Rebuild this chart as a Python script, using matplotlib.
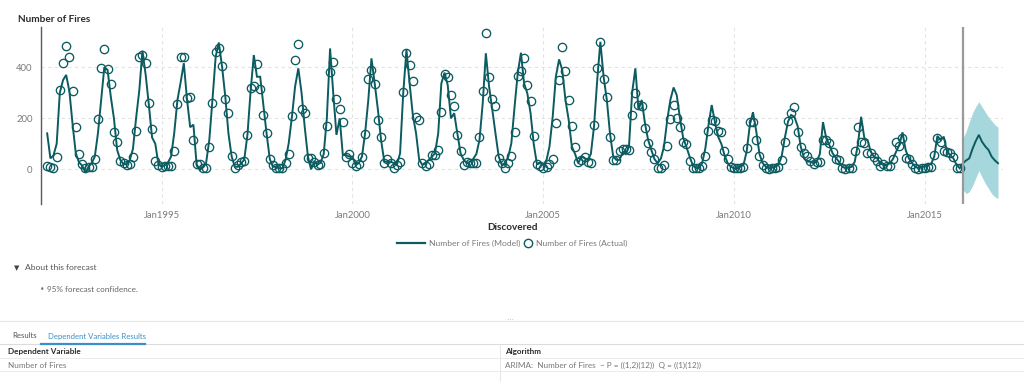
import numpy as np
import pandas as pd
import matplotlib
matplotlib.use("Agg")
import matplotlib.pyplot as plt
from matplotlib.lines import Line2D

plt.rcParams['font.family'] = ['Lato', 'DejaVu Sans']

# ---------------- data ----------------
actual = [
    12, 10, 5, 50, 310, 415, 485, 440, 307, 167, 60, 20,          # 1992
    7, 10, 10, 40, 197, 396, 470, 392, 335, 145, 108, 34,         # 1993
    24, 15, 20, 50, 152, 442, 448, 416, 259, 158, 33, 17,         # 1994
    10, 13, 13, 13, 73, 255, 442, 442, 278, 285, 115, 21,         # 1995
    21, 4, 4, 89, 259, 461, 474, 405, 275, 222, 52, 7,            # 1996
    17, 30, 34, 135, 318, 327, 412, 314, 213, 141, 39, 17,        # 1997
    4, 4, 4, 24, 60, 209, 429, 490, 235, 220, 43, 46,             # 1998
    30, 17, 21, 65, 170, 380, 422, 275, 235, 187, 50, 60,         # 1999
    26, 13, 21, 50, 139, 354, 390, 335, 193, 125, 24, 39,         # 2000
    24, 4, 17, 30, 305, 455, 409, 348, 207, 193, 24, 13,          # 2001
    20, 56, 56, 76, 224, 374, 360, 291, 248, 135, 72, 17,         # 2002
    30, 24, 24, 24, 128, 308, 536, 361, 275, 248, 43, 24,         # 2003
    4, 24, 52, 145, 366, 387, 435, 331, 269, 131, 21, 14,         # 2004
    7, 10, 20, 39, 180, 350, 481, 386, 272, 171, 89, 30,          # 2005
    37, 47, 27, 24, 174, 396, 500, 353, 285, 128, 37, 37,         # 2006
    72, 80, 78, 76, 213, 301, 252, 248, 161, 102, 67, 39,         # 2007
    4, 4, 17, 91, 197, 252, 203, 167, 106, 98, 33, 7,             # 2008
    4, 4, 14, 52, 150, 193, 190, 150, 145, 72, 39, 10,            # 2009
    7, 7, 7, 10, 82, 187, 184, 115, 54, 17, 7, 1,                 # 2010
    7, 7, 10, 37, 106, 191, 222, 246, 145, 89, 63, 54,            # 2011
    33, 20, 27, 30, 115, 115, 102, 69, 39, 35, 4, 1,              # 2012
    7, 7, 73, 167, 106, 102, 63, 63, 50, 34, 14, 20,              # 2013
    14, 14, 40, 108, 93, 122, 46, 41, 20, 7, 1, 7,                # 2014
    7, 10, 8, 56, 122, 108, 72, 69, 63, 50, 7, 4,                 # 2015
]

model = [
    141, 43, 54, 100, 300, 350, 370, 305, 174, 63, 27, 15,        # 1992
    -13, 10, 24, 50, 141, 272, 400, 390, 285, 200, 76, 37,        # 1993
    20, 20, 35, 80, 200, 310, 465, 370, 250, 125, 100, 20,        # 1994
    10, 17, 26, 50, 141, 272, 340, 416, 272, 165, 175, 20,        # 1995
    -3, 10, 24, 115, 272, 442, 497, 403, 285, 141, 50, 10,        # 1996
    10, 24, 37, 135, 305, 448, 363, 363, 250, 141, 40, 10,        # 1997
    10, 4, 4, 37, 102, 207, 324, 396, 300, 167, 50, 0,            # 1998
    30, 20, 25, 60, 200, 474, 300, 135, 200, 56, 56, 50,          # 1999
    50, 17, 24, 50, 141, 272, 435, 337, 233, 115, 30, 30,         # 2000
    30, 24, 17, 63, 298, 468, 337, 213, 141, 37, 17, 24,          # 2001
    37, 50, 63, 141, 337, 379, 330, 200, 220, 141, 63, 37,        # 2002
    24, 30, 40, 60, 115, 259, 455, 324, 233, 141, 50, 17,         # 2003
    24, 50, 102, 246, 376, 457, 337, 298, 220, 100, 20, 24,       # 2004
    17, 37, 89, 207, 363, 431, 390, 272, 193, 89, 60, 24,         # 2005
    50, 43, 37, 60, 167, 350, 500, 363, 272, 141, 50, 37,         # 2006
    37, 69, 60, 89, 300, 396, 233, 272, 180, 115, 76, 40,         # 2007
    24, 43, 89, 193, 272, 321, 291, 200, 122, 89, 50, 17,         # 2008
    4, 7, 24, 82, 174, 252, 187, 128, 100, 56, 24, 10,            # 2009
    4, 4, 10, 17, 69, 174, 224, 150, 60, 25, 10, 4,               # 2010
    7, 10, 17, 50, 122, 187, 213, 206, 170, 89, 45, 30,           # 2011
    30, 24, 30, 60, 185, 122, 95, 63, 45, 30, 10, 5,              # 2012
    7, 10, 30, 100, 206, 122, 115, 69, 50, 43, 24, 17,            # 2013
    17, 24, 40, 69, 95, 145, 76, 43, 24, 10, 4, 10,               # 2014
    10, 17, 20, 50, 131, 115, 128, 69, 56, 43, 17, 4,             # 2015
    24, 35, 43, 80, 110, 135, 108, 90, 76, 50, 35, 24,            # 2016 forecast
]

forecast_upper = [122, 150, 185, 220, 245, 265, 245, 225, 205, 190, 175, 165]
forecast_lower = [-80, -95, -88, -65, -35, -5, -30, -55, -75, -95, -108, -114]

y_ticks = [0, 200, 400]
x_tick_years = [1995, 2000, 2005, 2010, 2015]
legend_labels = ['Number of Fires (Model)', 'Number of Fires (Actual)']

# ---------------- figure ----------------
W, H = 1024, 382
fig = plt.figure(figsize=(W / 100, H / 100), dpi=100)

def fx(x):
    return x / W

def fy(y):
    return 1 - y / H

TEAL = '#0b5b61'
BAND = '#a6d7dc'
GRID = '#e3e3e3'
GRAY = '#7a7a7a'
DARK = '#2b2b2b'

ax = fig.add_axes([fx(41), fy(204), fx(1003) - fx(41), fy(27) - fy(204)])

dates_act = pd.date_range('1992-01-01', periods=len(actual), freq='MS')
dates_mod = pd.date_range('1992-01-01', periods=len(model), freq='MS')
dates_fc = pd.date_range('2016-01-01', periods=len(forecast_upper), freq='MS')

ax.fill_between(dates_fc, forecast_lower, forecast_upper, color=BAND, lw=0, zorder=1)
ax.plot(dates_mod, model, color=TEAL, lw=1.4, zorder=3, solid_joinstyle='miter')
ax.plot(dates_act, actual, linestyle='none', marker='o', ms=6.0,
        mfc='none', mec=TEAL, mew=0.95, zorder=4)
ax.axvline(pd.Timestamp('2016-01-01'), color='#9a9a9a', lw=1.6, zorder=5)

ax.set_ylim(-136, 558)
ax.set_xlim(pd.Timestamp('1991-11-03'), pd.Timestamp('2017-01-18'))

ax.set_yticks(y_ticks)
ax.set_yticklabels([str(v) for v in y_ticks])
ax.set_xticks([pd.Timestamp(f'{yr}-01-01') for yr in x_tick_years])
ax.set_xticklabels([f'Jan{yr}' for yr in x_tick_years])
ax.tick_params(axis='both', length=0, labelsize=6.8, colors=GRAY)
ax.tick_params(axis='y', pad=6)
ax.tick_params(axis='x', pad=5)
ax.grid(True, color=GRID, lw=0.8, ls=(0, (3, 3)))
ax.set_axisbelow(True)
for s in ['top', 'right', 'bottom']:
    ax.spines[s].set_visible(False)
ax.spines['left'].set_color('#5a5a5a')
ax.spines['left'].set_linewidth(1.0)

# titles
fig.text(fx(18), fy(20), 'Number of Fires', fontsize=7.2, fontweight='bold',
         color=DARK, ha='left', va='center')
fig.text(fx(512), fy(228), 'Discovered', fontsize=7.2, fontweight='bold',
         color=DARK, ha='center', va='center')

# legend (drawn as keys + labels)
fig.add_artist(Line2D([fx(397), fx(425)], [fy(243), fy(243)], color=TEAL, lw=1.6,
                      transform=fig.transFigure))
fig.text(fx(429), fy(243), legend_labels[0], fontsize=6.1, color=GRAY,
         ha='left', va='center')
fig.add_artist(Line2D([fx(528)], [fy(243)], marker='o', ms=6.0, mfc='none',
                      mec=TEAL, mew=1.0, linestyle='none',
                      transform=fig.transFigure))
fig.text(fx(536), fy(243), legend_labels[1], fontsize=6.1, color=GRAY,
         ha='left', va='center')

# about this forecast
fig.text(fx(14), fy(268), '\u25BC', fontsize=5, color='#444444',
         ha='left', va='center', family=['DejaVu Sans'])
fig.text(fx(25), fy(268), 'About this forecast', fontsize=6.1, color='#555555',
         ha='left', va='center')
fig.text(fx(40), fy(289), '\u2022', fontsize=5.5, color='#777777',
         ha='left', va='center', family=['DejaVu Sans'])
fig.text(fx(47), fy(289), '95% forecast confidence.', fontsize=5.9,
         color='#666666', ha='left', va='center')

# separators and tabs
def hline(y, x0, x1, color, lw):
    fig.add_artist(Line2D([fx(x0), fx(x1)], [fy(y), fy(y)], color=color, lw=lw,
                          transform=fig.transFigure))

def vline(x, y0, y1, color, lw):
    fig.add_artist(Line2D([fx(x), fx(x)], [fy(y0), fy(y1)], color=color, lw=lw,
                          transform=fig.transFigure))

hline(320.5, 0, 1024, '#e6e6e6', 0.8)
fig.text(fx(510), fy(320.5), '\u22EF', fontsize=5, color='#aaaaaa',
         ha='center', va='center', family=['DejaVu Sans'])

fig.text(fx(12), fy(336), 'Results', fontsize=5.6, color='#555555',
         ha='left', va='center')
fig.text(fx(48), fy(336), 'Dependent Variables Results', fontsize=5.6,
         color='#3a8fc8', ha='left', va='center')
hline(343.5, 0, 1024, '#dcdcdc', 0.8)
hline(343.5, 41, 145, '#3a8fc8', 1.6)

fig.text(fx(8), fy(351.5), 'Dependent Variable', fontsize=5.9, fontweight='bold',
         color=DARK, ha='left', va='center')
fig.text(fx(505), fy(351.5), 'Algorithm', fontsize=5.9, fontweight='bold',
         color=DARK, ha='left', va='center')
hline(358.3, 0, 1024, '#ebebeb', 0.7)
fig.text(fx(8), fy(365), 'Number of Fires', fontsize=5.9, color='#777777',
         ha='left', va='center')
fig.text(fx(505), fy(365),
         'ARIMA:  Number of Fires  ~ P = ((1,2)(12))  Q = ((1)(12))',
         fontsize=5.9, color='#777777', ha='left', va='center')
hline(371, 0, 1024, '#ebebeb', 0.7)
vline(500, 343.5, 382, '#e6e6e6', 0.7)

fig.savefig('out.png', dpi=100)
